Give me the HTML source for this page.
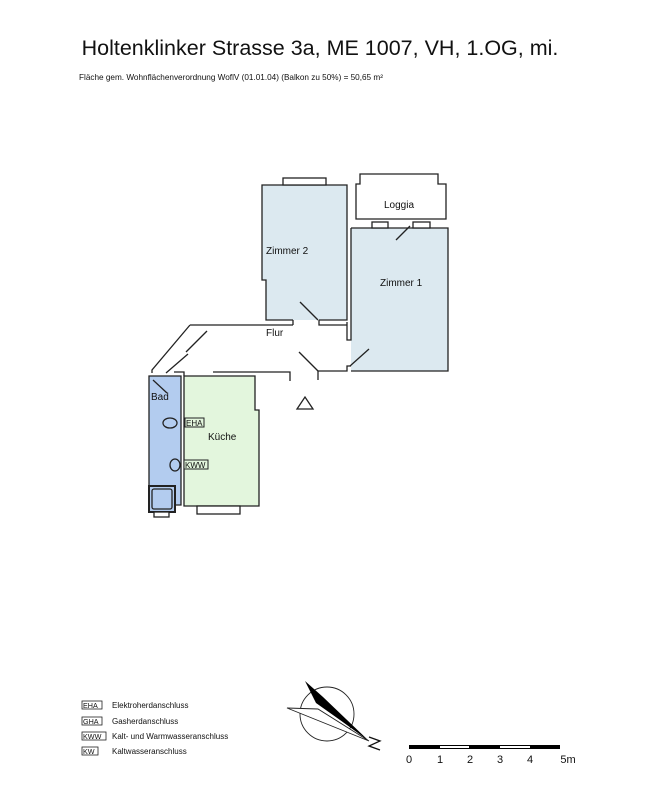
<!DOCTYPE html>
<html><head><meta charset="utf-8"><style>
body{margin:0;background:#fff;width:668px;height:800px;overflow:hidden}
svg{display:block}
text{font-family:"Liberation Sans",sans-serif;fill:#111}
</style></head><body>
<svg width="668" height="800" viewBox="0 0 668 800">
<text x="320" y="55" font-size="21.5" text-anchor="middle">Holtenklinker Strasse 3a, ME 1007, VH, 1.OG, mi.</text>
<text x="79" y="80" font-size="8.2">Fläche gem. Wohnflächenverordnung WoflV (01.01.04) (Balkon zu 50%) = 50,65  m²</text>
<g stroke="#222" stroke-width="1.3" fill="none">
<!-- Zimmer 2 -->
<path d="M262,185 H347 V320 H266 V280 H262 Z" fill="#dce9f0" stroke="none"/>
<path d="M293,320 H266 V280 H262 V185 H347 V320 H319"/>
<rect x="283" y="178" width="43" height="7" fill="#fff"/>
<line x1="300" y1="302" x2="318" y2="320"/>
<!-- Loggia -->
<path d="M360,174 H438 V184 H446 V219 H356 V184 H360 Z" fill="#fff"/>
<!-- Zimmer 1 -->
<rect x="351" y="228" width="97" height="143" fill="#dce9f0" stroke="none"/>
<path d="M351,228 H448 V371 H351 M351,228 V340 H347 V322"/>
<rect x="372" y="222" width="16" height="6" fill="#fff"/>
<rect x="413" y="222" width="17" height="6" fill="#fff"/>
<line x1="396" y1="240" x2="410" y2="226"/>
<line x1="350" y1="366" x2="369" y2="349"/>
<!-- Flur -->
<path d="M293,325 V320 M319,320 V325 H347"/>
<path d="M190,325 H293 M190,325 L152,370 V373"/>
<path d="M318,371 H347 V366 H351 M318,371 V380"/>
<path d="M213,372 H290 V381"/>
<line x1="299" y1="352" x2="318" y2="371"/>
<line x1="186" y1="352" x2="207" y2="331"/>
<line x1="188" y1="354" x2="166" y2="373"/>
<!-- Bad -->
<path d="M149,376 H181 V505 H149 Z" fill="#b3ccef"/>
<path d="M174,372 H184 V376" fill="none"/>
<line x1="153" y1="380" x2="167" y2="393"/>
<rect x="149" y="486" width="26" height="26" stroke-width="2" fill="#b3ccef"/>
<rect x="152" y="489" width="20" height="20" rx="2"/>
<rect x="154" y="512" width="15" height="5" fill="#fff"/>
<ellipse cx="170" cy="423" rx="7" ry="5" fill="#b3ccef"/>
<ellipse cx="175" cy="465" rx="5" ry="6" fill="#b3ccef"/>
<!-- Küche -->
<path d="M184,376 H255 V410 H259 V506 H184 Z" fill="#e3f6dd"/>
<rect x="197" y="506" width="43" height="8" fill="#fff"/>
<rect x="185" y="418" width="19" height="9" fill="#e3f6dd" stroke-width="1"/>
<rect x="184" y="460" width="24" height="9" fill="#e3f6dd" stroke-width="1"/>
<!-- triangle -->
<path d="M297,409 L305,397 L313,409 Z" fill="#fff"/>
</g>
<text x="186" y="426" font-size="8">EHA</text>
<text x="185" y="468" font-size="8">KWW</text>
<text x="266" y="254" font-size="10">Zimmer 2</text>
<text x="384" y="208" font-size="10">Loggia</text>
<text x="380" y="286" font-size="10">Zimmer 1</text>
<text x="266" y="336" font-size="10">Flur</text>
<text x="151" y="400" font-size="10">Bad</text>
<text x="208" y="440" font-size="10">Küche</text>
<!-- legend -->
<g stroke="#222" stroke-width="0.8" fill="none">
<rect x="82" y="701" width="20" height="8"/><rect x="82" y="717" width="20" height="8"/>
<rect x="82" y="732" width="24" height="8"/><rect x="82" y="747" width="16" height="8"/>
</g>
<g font-size="7.2">
<text x="83" y="708">EHA</text><text x="83" y="724">GHA</text><text x="83" y="739">KWW</text><text x="83" y="754">KW</text>
</g>
<g font-size="8">
<text x="112" y="708">Elektroherdanschluss</text>
<text x="112" y="724">Gasherdanschluss</text>
<text x="112" y="739">Kalt- und Warmwasseranschluss</text>
<text x="112" y="754">Kaltwasseranschluss</text>
</g>
<!-- compass -->
<circle cx="327" cy="714" r="27" fill="none" stroke="#222" stroke-width="0.9"/>
<path d="M287,708 L318,709 L369,741 Z" fill="#fff" stroke="#222" stroke-width="0.9"/>
<path d="M305,681 L323,697 L369,741 L340,720 L316,703 Z" fill="#000"/>
<path d="M369,737 L380,741 L369,746 L380,750" fill="none" stroke="#111" stroke-width="1.3"/>
<!-- scale -->
<rect x="409" y="745" width="151" height="4" fill="#000"/>
<rect x="440" y="746" width="29" height="2" fill="#fff"/>
<rect x="500" y="746" width="30" height="2" fill="#fff"/>
<g font-size="11">
<text x="409" y="763" text-anchor="middle">0</text><text x="440" y="763" text-anchor="middle">1</text>
<text x="470" y="763" text-anchor="middle">2</text><text x="500" y="763" text-anchor="middle">3</text>
<text x="530" y="763" text-anchor="middle">4</text><text x="568" y="763" text-anchor="middle">5m</text>
</g>
</svg>
</body></html>
